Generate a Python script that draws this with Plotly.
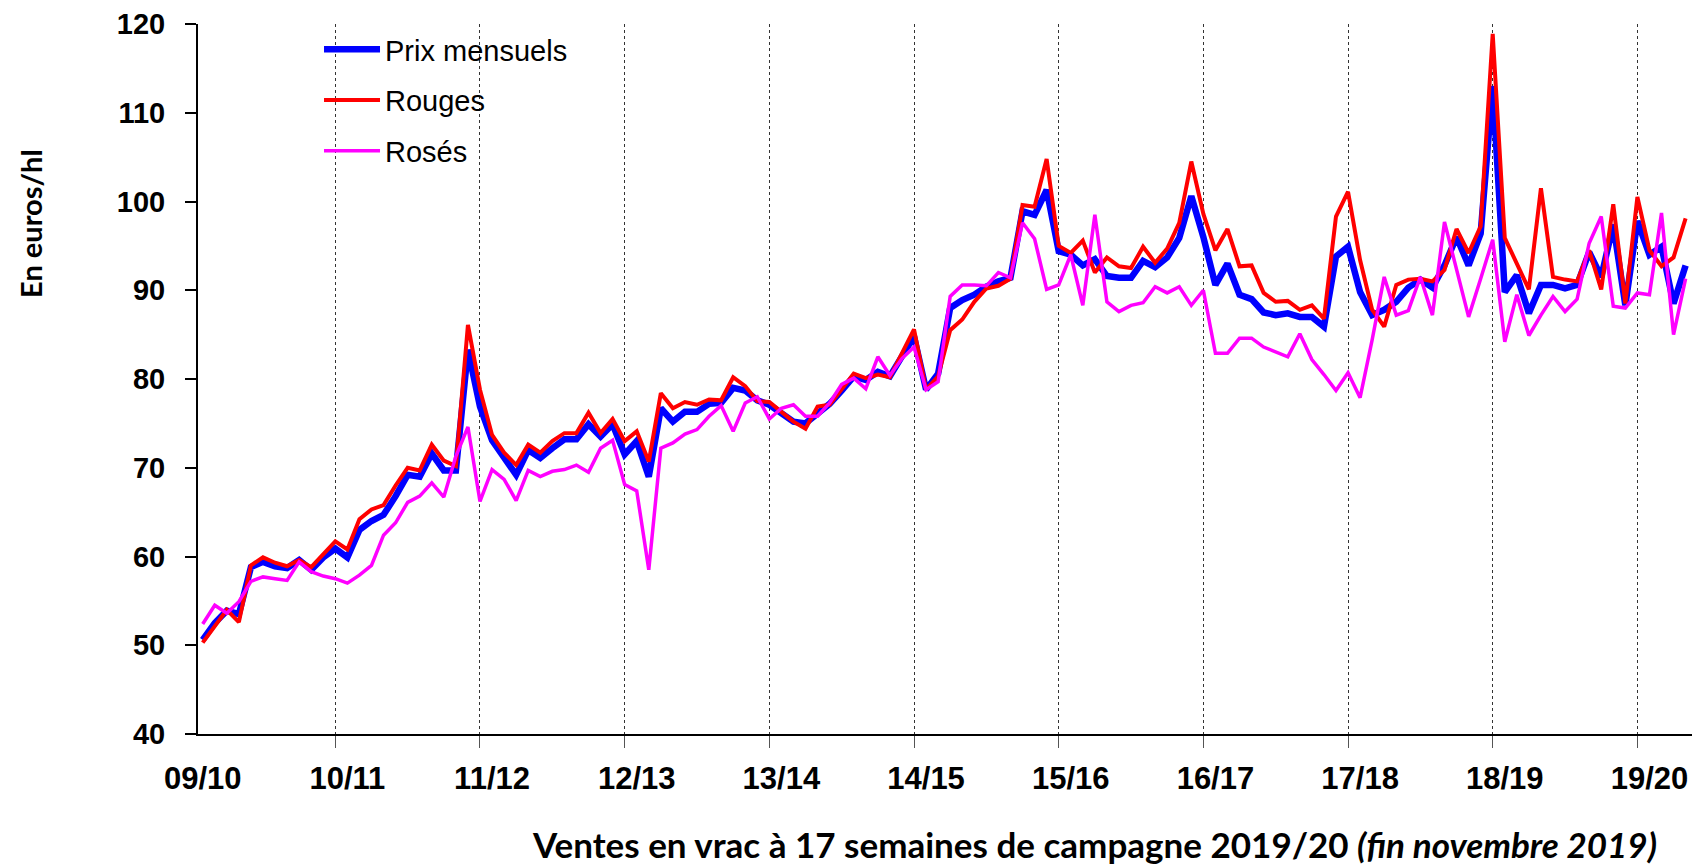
import plotly.graph_objects as go

campaigns = ["09/10", "10/11", "11/12", "12/13", "13/14", "14/15",
             "15/16", "16/17", "17/18", "18/19", "19/20"]

# monthly values, 12 per row (last row: start of 2019/20)
prix_mensuels = [
    50.6, 52.5, 53.9, 53.5, 58.8, 59.4, 58.9, 58.7, 59.6, 58.5, 59.9, 60.9,
    59.9, 63.0, 64.0, 64.7, 66.8, 69.2, 69.0, 71.6, 69.7, 69.7, 83.3, 76.9,
    73.1, 71.3, 69.2, 72.0, 71.1, 72.2, 73.2, 73.2, 74.9, 73.5, 74.9, 71.5,
    73.0, 69.0, 76.7, 75.2, 76.3, 76.3, 77.2, 77.3, 79.0, 78.7, 77.6, 77.1,
    76.1, 75.2, 75.0, 76.1, 77.2, 78.7, 80.3, 79.9, 80.8, 80.3, 82.5, 84.8,
    78.8, 80.6, 88.0, 88.9, 89.5, 90.4, 91.0, 91.4, 98.9, 98.5, 101.3, 94.4,
    94.0, 92.8, 93.5, 91.6, 91.4, 91.4, 93.3, 92.6, 93.7, 95.9, 100.6, 96.0,
    90.6, 93.0, 89.5, 89.0, 87.5, 87.2, 87.4, 87.0, 87.0, 85.9, 93.8, 94.9,
    89.8, 87.2, 87.8, 88.7, 90.3, 91.2, 90.3, 92.8, 96.0, 92.8, 96.4, 113.0,
    89.8, 91.7, 87.4, 90.6, 90.6, 90.2, 90.6, 94.3, 91.5, 97.4, 88.3, 97.8,
    94.0, 94.9, 88.5, 92.8,
]

rouges = [
    50.3, 52.1, 54.0, 52.6, 59.0, 59.9, 59.3, 58.9, 59.6, 58.8, 60.3, 61.7,
    60.8, 64.2, 65.3, 65.8, 68.0, 70.0, 69.7, 72.6, 70.8, 70.2, 86.1, 78.8,
    73.7, 71.7, 70.3, 72.6, 71.7, 73.0, 73.9, 73.9, 76.2, 73.9, 75.5, 73.0,
    74.1, 70.7, 78.4, 76.7, 77.4, 77.1, 77.7, 77.6, 80.2, 79.2, 77.5, 77.4,
    76.3, 75.2, 74.4, 76.9, 77.1, 78.9, 80.6, 80.1, 80.5, 80.2, 82.9, 85.6,
    78.8, 80.3, 85.5, 86.7, 88.7, 90.2, 90.5, 91.3, 99.6, 99.4, 104.8, 95.0,
    94.2, 95.6, 92.0, 93.7, 92.7, 92.5, 94.9, 93.1, 94.7, 97.6, 104.5, 98.6,
    94.5, 96.9, 92.7, 92.8, 89.7, 88.7, 88.8, 87.8, 88.3, 86.8, 98.3, 101.1,
    93.4, 87.8, 85.9, 90.6, 91.2, 91.3, 91.0, 92.3, 96.9, 94.2, 97.2, 118.9,
    95.9, 93.0, 90.1, 101.5, 91.5, 91.2, 91.0, 94.5, 90.1, 99.7, 88.5, 100.5,
    94.5, 92.7, 93.7, 98.1,
]

roses = [
    52.4, 54.5, 53.6, 54.9, 57.2, 57.7, 57.5, 57.3, 59.4, 58.3, 57.8, 57.5,
    57.0, 57.9, 59.0, 62.4, 63.8, 66.1, 66.8, 68.3, 66.7, 71.3, 74.6, 66.2,
    69.8, 68.7, 66.3, 69.7, 69.0, 69.6, 69.8, 70.3, 69.5, 72.2, 73.1, 68.1,
    67.4, 58.5, 72.2, 72.8, 73.8, 74.3, 75.8, 77.0, 74.1, 77.3, 78.0, 75.5,
    76.7, 77.1, 75.8, 75.8, 77.3, 79.4, 80.1, 78.9, 82.5, 80.4, 82.3, 83.6,
    78.8, 79.7, 89.3, 90.6, 90.6, 90.5, 92.0, 91.4, 97.6, 95.8, 90.1, 90.6,
    94.0, 88.3, 98.5, 88.7, 87.6, 88.3, 88.6, 90.4, 89.7, 90.4, 88.3, 90.0,
    82.9, 82.9, 84.6, 84.6, 83.6, 83.1, 82.5, 85.1, 82.2, 80.5, 78.7, 80.7,
    77.9, 84.4, 91.5, 87.2, 87.7, 91.5, 87.2, 97.7, 92.5, 87.0, 91.3, 95.7,
    84.2, 89.5, 84.9, 87.2, 89.3, 87.6, 89.0, 95.3, 98.3, 88.2, 88.0, 89.7,
    89.5, 98.7, 85.0, 91.3,
]

months = list(range(len(prix_mensuels)))
label_pos = [12 * k for k in range(len(campaigns))]
grid_pos = [12 * k - 1 for k in range(1, len(campaigns))]

fig = go.Figure()
fig.add_trace(go.Scatter(x=months, y=prix_mensuels, mode="lines", name="Prix mensuels",
                         legendgroup="a", line=dict(color="#0000FF", width=6.5)))
fig.add_trace(go.Scatter(x=months, y=rouges, mode="lines", name="Rouges",
                         legendgroup="b", line=dict(color="#FF0000", width=4)))
fig.add_trace(go.Scatter(x=months, y=roses, mode="lines", name="Rosés",
                         legendgroup="c", line=dict(color="#FF00FF", width=3.5)))

xtickfont = dict(family="Arial, Liberation Sans", size=31, color="black", weight="bold")
ytickfont = dict(family="Arial, Liberation Sans", size=29, color="black", weight="bold")

fig.update_layout(
    width=1692, height=868,
    paper_bgcolor="white", plot_bgcolor="white",
    margin=dict(l=198, r=0, t=24, b=134),
    showlegend=True,
    legend=dict(x=0.081, y=1.0, xanchor="left", yanchor="top",
                font=dict(family="Arial, Liberation Sans", size=29, color="black"),
                bgcolor="rgba(0,0,0,0)", tracegroupgap=10, itemwidth=56),
    xaxis=dict(
        range=[-0.39, 123.53],
        tickmode="array", tickvals=label_pos, ticktext=campaigns,
        ticks="", showgrid=False, zeroline=False,
        showline=True, linecolor="black", linewidth=2,
        tickfont=xtickfont, ticklabelstandoff=16,
        minor=dict(tickmode="array", tickvals=grid_pos, ticks="outside",
                   ticklen=12, tickwidth=1, tickcolor="#555555",
                   showgrid=True, gridcolor="#333333", gridwidth=1, griddash="dot"),
    ),
    yaxis=dict(
        range=[40, 120], tickmode="linear", tick0=40, dtick=10,
        ticks="outside", ticklen=11, tickwidth=2, tickcolor="black",
        showgrid=False, zeroline=False,
        showline=True, linecolor="black", linewidth=2,
        tickfont=ytickfont, ticklabelstandoff=14,
    ),
    annotations=[
        dict(text="<b>En euros/hl</b>", textangle=-90, xref="paper", yref="paper",
             x=-0.112, y=0.718, xanchor="center", yanchor="middle", showarrow=False,
             font=dict(family="Lato", size=29, color="black")),
        dict(text="<b>Ventes en vrac à 17 semaines de campagne 2019/20 <i>(fin novembre 2019)</i></b>",
             xref="paper", yref="paper", x=0.6, y=-0.155, xanchor="center", yanchor="middle",
             showarrow=False, font=dict(family="Lato", size=35, color="black")),
    ],
)

fig.write_html("out.html", config={"displayModeBar": False},
               post_script="document.body.style.margin='0px';")
